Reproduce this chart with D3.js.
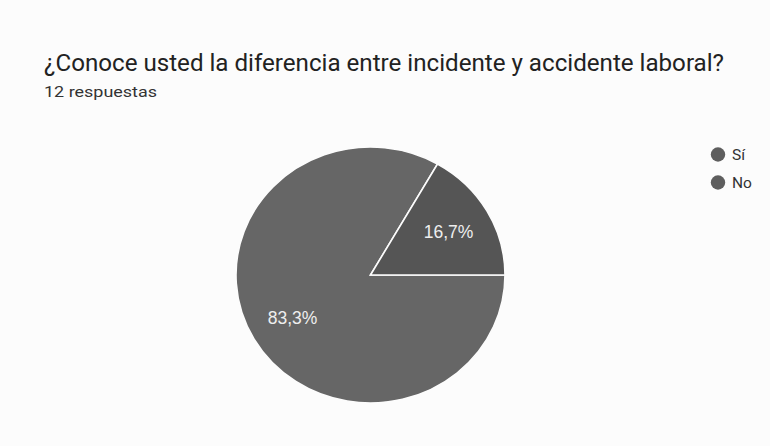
<!DOCTYPE html>
<html><head><meta charset="utf-8">
<script src="https://cdn.jsdelivr.net/npm/d3@7"></script>
<style>
html,body{margin:0;padding:0;background:#fcfcfc;}
svg{display:block;font-family:Roboto, "Noto Sans", sans-serif;}
</style></head>
<body>
<svg id="c" width="770" height="446"></svg>
<script>
const title = "¿Conoce usted la diferencia entre incidente y accidente laboral?";
const subtitle = "12 respuestas";
const categories = ["Sí", "No"];
const values = [83.3, 16.7];
const labels = ["83,3%", "16,7%"];
const colors = ["#666666", "#555555"];
const legendColor = "#5e5e5e";

const svg = d3.select("#c");
svg.append("rect").attr("width",770).attr("height",446).attr("fill","#fcfcfc");

svg.append("text").attr("x",44).attr("y",71).attr("font-size",23).attr("fill","#222")
  .attr("textLength",680).attr("lengthAdjust","spacingAndGlyphs").text(title);
svg.append("text").attr("x",44).attr("y",97).attr("font-size",15).attr("fill","#333")
  .attr("textLength",113).attr("lengthAdjust","spacingAndGlyphs").text(subtitle);

const cx = 370.5, cy = 275, R = 134.5, sy = 128/134.5;
const data = categories.map((c,i)=>({c, v: values[i], l: labels[i], col: colors[i]}));
const pie = d3.pie().value(d=>d.v).sort(null).startAngle(Math.PI/2).endAngle(Math.PI/2 + 2*Math.PI);
const arcs = pie(data);
const arc = d3.arc().innerRadius(0).outerRadius(R);
const labelArc = d3.arc().innerRadius(R*0.67).outerRadius(R*0.67);

const g = svg.append("g").attr("transform",`translate(${cx},${cy}) scale(1,${sy})`);
g.selectAll("path").data(arcs).join("path")
  .attr("d",arc).attr("fill",d=>d.data.col)
  .attr("stroke","#fcfcfc").attr("stroke-width",1.6).attr("vector-effect","non-scaling-stroke");

svg.selectAll("text.lbl").data(arcs).join("text").attr("class","lbl")
  .attr("x",d=>cx+labelArc.centroid(d)[0])
  .attr("y",d=>cy+labelArc.centroid(d)[1]*sy)
  .attr("dy","0.36em").attr("text-anchor","middle")
  .attr("font-family","'Liberation Sans', Arial, sans-serif")
  .attr("font-size",17.5).attr("fill","#eeeeee")
  .text(d=>d.data.l);

const leg = svg.append("g");
const ly = d3.scalePoint().domain(categories).range([154.5,182.5]);
categories.forEach((c,i)=>{
  leg.append("circle").attr("cx",718).attr("cy",ly(c)).attr("r",7.2).attr("fill",legendColor);
  leg.append("text").attr("x",732).attr("y",ly(c)).attr("dy","0.36em").attr("font-size",15.5).attr("fill","#333").text(c);
});
</script>
</body></html>
